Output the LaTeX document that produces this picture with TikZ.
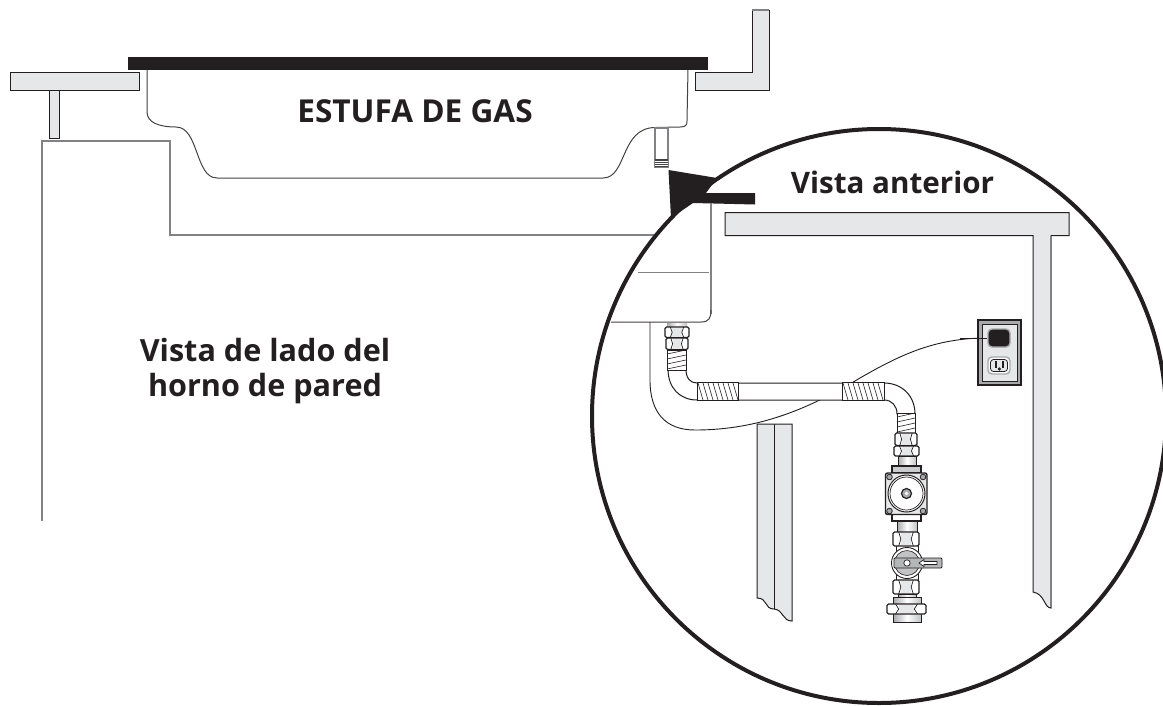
\documentclass[tikz,border=0pt]{standalone}
\usepackage{fontspec}
\setmainfont{Open Sans}
\definecolor{panel}{HTML}{E6E7E8}
\definecolor{ink}{HTML}{231F20}
\definecolor{wallgray}{HTML}{808285}
\definecolor{midgray}{HTML}{A7A9AC}
\tikzset{
  panelbox/.style={draw=ink,fill=panel,line width=1pt},
  wallline/.style={draw=wallgray,line width=1.4pt},
  stoveline/.style={draw=ink!85,line width=1pt},
  label/.style={font=\bfseries\fontsize{30.6}{35}\selectfont,text=ink,inner sep=0pt,align=center},
  nutbox/.style={draw=ink,fill=white,line width=1.1pt,rounded corners=1.5pt},
  tube/.style={draw=ink,line width=.8pt,left color=midgray,right color=midgray!70,middle color=white},
  thinline/.style={draw=ink,line width=.7pt},
}
% hex nut: x1 y1 x2 y2
\newcommand{\hexnut}[4]{%
  \draw[nutbox] (#1,#2) rectangle (#3,#4);
  \fill[panel] ({#1+(#3-#1)*.3},{#2+1}) rectangle ({#3-(#3-#1)*.3},{#4-1});
  \draw[thinline] ({#1+(#3-#1)*.22},#2) -- ({#1+(#3-#1)*.3},{(#2+#4)/2}) -- ({#1+(#3-#1)*.22},#4);
  \draw[thinline] ({#3-(#3-#1)*.22},#2) -- ({#3-(#3-#1)*.3},{(#2+#4)/2}) -- ({#3-(#3-#1)*.22},#4);
}
\begin{document}
\begin{tikzpicture}[x=1pt,y=-1pt]
\useasboundingbox (0,0) rectangle (1163,705);
% left counter and wall
\draw[panelbox] (49.5,90) rectangle (59,138);
\draw[panelbox] (10.5,72) rectangle (139,90);
\draw[wallline] (42,521) -- (42,141) -- (170,141) -- (170,235) -- (670,235);
% right counter
\draw[panelbox] (695,72) -- (752,72) -- (752,10) -- (769,10) -- (769,90) -- (695,90) -- cycle;
\draw[wallgray,line width=1.2pt] (752,10) -- (769,10);
% stove
\draw[stoveline] (147,69) -- (147,112) .. controls (147,122) and (158,127) .. (176,127)
  .. controls (199,127) and (195,178) .. (217,178) -- (603,178)
  .. controls (627,178) and (620,128) .. (655,127.5) -- (680,127)
  .. controls (686,127) and (687,125) .. (687,121) -- (688,69);
\fill[ink] (128,57) rectangle (708,69.5);
% gas stub
\draw[wallgray,line width=1.2pt,fill=white] (655,128) rectangle (668,167);
\fill[ink!85] (655,159) rectangle (668,167);
\foreach \yy in {161,163,165}{\draw[white,line width=.3pt] (655,\yy) -- (668,\yy);}
% magnified circle
\draw[ink,line width=4pt,fill=white] (879,416) circle[radius=287];
% pointer
\fill[ink] (668.5,170) -- (717,178) -- (706,193) -- (755,193) -- (755,204.5) -- (693,203) -- (671,218) -- cycle;
% stove inside
\draw[wallline,line width=1.2pt] (711,203) -- (711,314);
\draw[ink!85,line width=1pt] (711,310) .. controls (711,318) and (709,322) .. (701,322) -- (611,322);
\draw[wallgray,line width=1pt] (638,272) -- (709,272);
% front counter
\draw[panelbox] (725,212.5) -- (1069,212.5) -- (1069,235.5) -- (1051,235.5) -- (1051,608)
  .. controls (1044,608) and (1045,594) .. (1033,592) -- (1033,235.5) -- (725,235.5) -- cycle;
\draw[wallgray,line width=1.2pt] (1051,236) -- (1051,607);
% left panel
\draw[panelbox] (757,424) -- (792,424) -- (792,621)
  .. controls (782,621) and (784,610) .. (774,609) .. controls (764,609) and (768,598) .. (757,598) -- cycle;
\draw[ink,line width=1pt] (774,424) -- (774,609);
% cord
\draw[ink,line width=.9pt] (650,322) -- (650,380) .. controls (650,412) and (665,430) .. (695,430)
  .. controls (760,430) and (810,408) .. (860,378) .. controls (900,355) and (935,338) .. (987,338);
% flex tube
\draw[ink,fill=white,line width=1pt] (668,369) .. controls (668,388) and (680,400) .. (697,400) -- (884,400)
  .. controls (892,400) and (897,406) .. (897,414) -- (915,414)
  .. controls (915,396) and (902,383) .. (884,383) -- (697,383)
  .. controls (690,383) and (686,378) .. (686,369) -- cycle;
% threads horizontal
\foreach \xa/\xb in {697/738,842/884}{
  \draw[ink,line width=.9pt,fill=white] (\xa,382.5) rectangle (\xb,400.5);
  \foreach \xx in {0,5,...,35}{\draw[ink,line width=.6pt] ({\xa+1+\xx},383) -- ({\xa+6+\xx},400);}
}
% vertical threads
\foreach \ya/\xa/\xb in {350/667/686,413/897/915}{
  \draw[ink,line width=.9pt,fill=white] (\xa,\ya) rectangle (\xb,\ya+20);
  \foreach \yy in {0,5,10,15}{\draw[ink,line width=.6pt] (\xa,\ya+\yy+4) -- (\xb,\ya+\yy);}
}
% top fitting
\draw[tube,draw=none] (667,323) rectangle (687,327);
\hexnut{665}{327}{689}{337.5}
\hexnut{666}{338}{688}{349.5}
% valve assembly
\hexnut{895}{433}{917}{445.5}
\hexnut{894}{446}{919}{456}
\draw[tube] (898,456) rectangle (916,467);
\draw[ink,line width=1.2pt,fill=midgray!60] (892,466) rectangle (921,473);
\draw[ink,line width=1.2pt,fill=white] (892,514) rectangle (921,521);
\draw[tube] (897,521) rectangle (917,532);
% regulator
\draw[ink,line width=1.4pt,fill=panel,rounded corners=2pt] (885.5,473) rectangle (927,514.5);
\draw[ink,line width=1pt,fill=white] (906.5,493.5) circle[radius=18.5];
\draw[ink,line width=.7pt] (906.5,493.5) circle[radius=16.5];
\draw[ink,line width=1.2pt,fill=midgray] (906.5,493.5) circle[radius=5];
\fill[white] (906.5,493.5) circle[radius=1.8];
\foreach \bx/\by in {889.5/477,923/477,889.5/511,923/511}{
  \draw[ink,line width=.8pt,fill=midgray] (\bx,\by) circle[radius=2.8];}
% lower pipe and valve
\draw[ink,line width=.8pt,fill=white] (896,545) rectangle (918,581);
\hexnut{893}{532}{919}{546}
\draw[ink,line width=.9pt,fill=white] (907,563) circle[radius=15.5];
\draw[ink,line width=.6pt,fill=midgray!70] (907,563) circle[radius=12.5];
\draw[ink,line width=.9pt,fill=midgray!85,rounded corners=1pt] (894,558) rectangle (942,568);
\draw[ink,line width=.7pt,fill=white] (907,563) circle[radius=3.2];
\draw[ink,line width=.7pt,fill=white] (919,563) -- (924,559.5) -- (924,561.5) -- (937,561.5) -- (937,564.5) -- (924,564.5) -- (924,566.5) -- cycle;
\hexnut{893}{580}{919}{594}
\draw[tube] (898,594) rectangle (916,598);
\draw[tube] (893,597) rectangle (921,604);
\draw[tube] (893,613) rectangle (921,622);
\hexnut{887}{604}{926}{614}
% outlet
\draw[ink,line width=1.2pt,fill=midgray] (978,320) rectangle (1021,385);
\draw[ink,line width=.5pt,fill=panel] (982,324) rectangle (1017,381);
\draw[midgray,line width=1.4pt,fill=ink,rounded corners=4pt] (988,329) rectangle (1010,347);
\draw[midgray,line width=1.4pt,fill=white,rounded corners=4pt] (988,357) rectangle (1010,374);
\draw[ink,line width=.8pt,fill=panel,rounded corners=3pt] (990.5,359.5) rectangle (1007.5,371.5);
\fill[ink] (994.5,361) rectangle (996.5,368);
\fill[ink] (1002,361) rectangle (1004,368);
\fill[ink] (999.3,369) circle[radius=1.8];
% cord end
\draw[ink,line width=.9pt] (960,338) -- (987,338);
% text
\node[label,font=\bfseries\fontsize{31.6}{36}\selectfont] (stove) at (415,111) {ESTUFA DE GAS};
\node[label,font=\bfseries\fontsize{29.6}{35}\selectfont] (front) at (892.5,182) {Vista anterior};
\node[label] (side) at (265,371) {Vista de lado del\\horno de pared};
\end{tikzpicture}
\end{document}
